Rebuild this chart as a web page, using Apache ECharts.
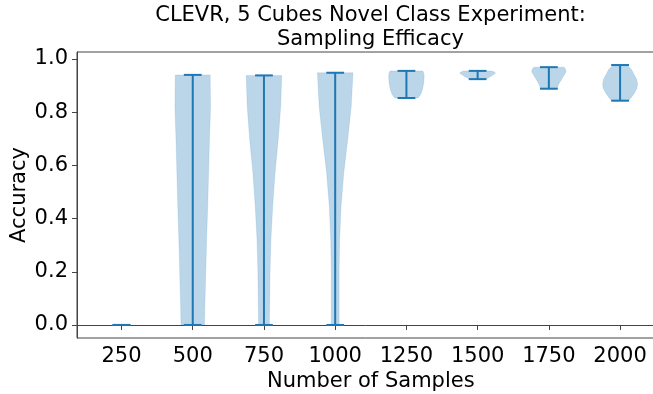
<!DOCTYPE html>
<html>
<head>
<meta charset="utf-8">
<script src="https://cdn.jsdelivr.net/npm/echarts@6/dist/echarts.min.js"></script>
<style>html,body{margin:0;padding:0;background:#fff}#c{width:653px;height:394px}</style>
</head>
<body>
<div id="c"></div>
<script>
// ---- data ----
const categories = ['250', '500', '750', '1000', '1250', '1500', '1750', '2000'];
const positions = [1, 2, 3, 4, 5, 6, 7, 8];
const accMin = [0, 0, 0, 0, 0.853, 0.924, 0.888, 0.843];
const accMax = [0, 0.940, 0.938, 0.948, 0.955, 0.955, 0.969, 0.977];
// estimated density profile of each violin: [accuracy, relative width]
const dens250 = [];
const dens500 = [[0, 0.66], [0.069, 0.68], [0.194, 0.73], [0.32, 0.78], [0.445, 0.84], [0.57, 0.89], [0.695, 0.94], [0.82, 1.0], [0.94, 0.98]];
const dens750 = [[0, 0.30], [0.069, 0.32], [0.194, 0.34], [0.32, 0.39], [0.445, 0.49], [0.57, 0.62], [0.695, 0.80], [0.821, 0.94], [0.938, 1.0]];
const dens1000 = [[0, 0.22], [0.069, 0.22], [0.194, 0.22], [0.32, 0.25], [0.445, 0.33], [0.57, 0.48], [0.695, 0.70], [0.82, 0.90], [0.948, 1.0]];
const dens1250 = [[0.853, 0.66], [0.865, 0.79], [0.884, 0.90], [0.909, 0.97], [0.934, 1.0], [0.948, 0.97], [0.955, 0.92]];
const dens1500 = [[0.924, 0.45], [0.935, 0.75], [0.946, 1.0], [0.951, 0.95], [0.955, 0.8]];
const dens1750 = [[0.888, 0.47], [0.902, 0.53], [0.921, 0.69], [0.94, 0.86], [0.952, 0.97], [0.962, 0.93], [0.969, 0.85]];
const dens2000 = [[0.843, 0.47], [0.852, 0.6], [0.871, 0.8], [0.89, 0.95], [0.908, 0.98], [0.925, 0.92], [0.94, 0.8], [0.959, 0.65], [0.977, 0.4]];
const profiles = [dens250, dens500, dens750, dens1000, dens1250, dens1500, dens1750, dens2000];
const yTicks = [0, 0.2, 0.4, 0.6, 0.8, 1.0];

const violinWidth = 0.5;   // matplotlib default widths
const C0 = '#1f77b4';
const FONT = 'DejaVu Sans';
const FS = 21;

const chart = echarts.init(document.getElementById('c'), null, {renderer: 'canvas'});

function renderViolin(params, api) {
  const i = params.dataIndex;
  const pos = api.value(0);
  const lo = api.value(1), hi = api.value(2);
  const prof = profiles[i];
  const half = violinWidth / 2;
  const children = [];
  if (prof.length > 1) {
    const right = prof.map(p => api.coord([pos + p[1] * half, p[0]]));
    const left = prof.slice().reverse().map(p => api.coord([pos - p[1] * half, p[0]]));
    children.push({
      type: 'polygon',
      shape: {points: right.concat(left)},
      style: {fill: 'rgba(31,119,180,0.3)', stroke: 'rgba(31,119,180,0.12)', lineWidth: 1}
    });
  }
  const capHalf = violinWidth / 4;
  const a = api.coord([pos - capHalf, hi]), b = api.coord([pos + capHalf, hi]);
  const c = api.coord([pos - capHalf, lo]), d = api.coord([pos + capHalf, lo]);
  const t = api.coord([pos, hi]), u = api.coord([pos, lo]);
  const ls = {stroke: C0, lineWidth: 2};
  children.push({type: 'line', shape: {x1: t[0], y1: t[1], x2: u[0], y2: u[1]}, style: ls});
  children.push({type: 'line', shape: {x1: a[0], y1: a[1], x2: b[0], y2: b[1]}, style: ls});
  children.push({type: 'line', shape: {x1: c[0], y1: c[1], x2: d[0], y2: d[1]}, style: ls});
  return {type: 'group', children};
}

const seriesData = positions.map((p, i) => [p, accMin[i], accMax[i]]);

chart.setOption({
  animation: false,
  backgroundColor: '#fff',
  title: {
    text: 'CLEVR, 5 Cubes Novel Class Experiment:\nSampling Efficacy',
    left: 370.5,
    top: 4,
    padding: 0,
    textAlign: 'center',
    textStyle: {fontFamily: FONT, fontSize: FS, fontWeight: 'normal', color: '#000', lineHeight: 24}
  },
  grid: {
    left: 77, top: 52, width: 587.6, height: 286,
    show: true, borderColor: '#444', borderWidth: 1,
    containLabel: false, outerBoundsMode: 'none'
  },
  xAxis: {
    type: 'value',
    min: 0.375, max: 8.625,
    name: 'Number of Samples',
    nameLocation: 'middle',
    nameGap: 33,
    nameMoveOverlap: false,
    nameTextStyle: {fontFamily: FONT, fontSize: FS, color: '#000'},
    axisLine: {show: true, lineStyle: {color: '#444', width: 1}},
    axisTick: {show: true, customValues: positions, length: 5, inside: false, lineStyle: {color: '#444'}},
    axisLabel: {
      customValues: positions,
      fontFamily: FONT, fontSize: FS, color: '#000', margin: 8,
      formatter: v => categories[Math.round(v) - 1]
    },
    splitLine: {show: false}
  },
  yAxis: {
    type: 'value',
    min: -0.049, max: 1.026,
    name: 'Accuracy',
    nameLocation: 'middle',
    nameGap: 47,
    nameMoveOverlap: false,
    nameTextStyle: {fontFamily: FONT, fontSize: FS, color: '#000'},
    axisLine: {show: true, lineStyle: {color: '#444', width: 1}},
    axisTick: {show: true, customValues: yTicks, length: 5, inside: false, lineStyle: {color: '#444'}},
    axisLabel: {
      customValues: yTicks,
      fontFamily: FONT, fontSize: FS, color: '#000', margin: 9,
      formatter: v => v.toFixed(1)
    },
    splitLine: {show: false}
  },
  series: [{
    type: 'custom',
    name: 'Accuracy',
    renderItem: renderViolin,
    encode: {x: 0, y: [1, 2]},
    data: seriesData,
    clip: true
  }]
});
</script>
</body>
</html>
